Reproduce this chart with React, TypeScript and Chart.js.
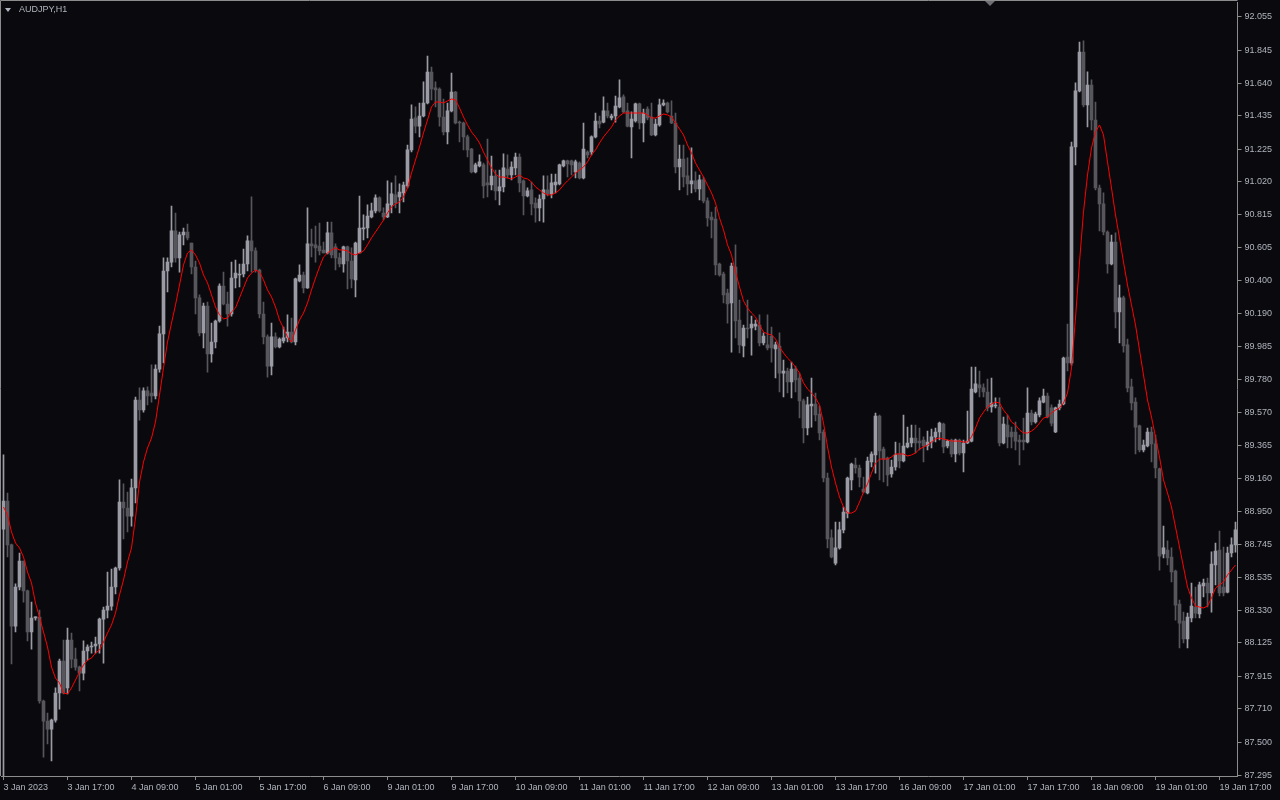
import React, { useEffect, useRef } from "react";
import { Chart, registerables } from "chart.js";

Chart.register(...registerables);

const opens = [
  88.839, 89.016, 88.740, 88.230, 88.476, 88.639, 88.451, 88.193, 88.281, 88.287,
  87.760, 87.634, 87.583, 87.640, 87.810, 88.011, 87.842, 88.143, 88.023, 87.973,
  87.935, 88.074, 88.099, 88.105, 88.118, 88.274, 88.331, 88.356, 88.476, 88.595,
  89.009, 88.972, 88.921, 89.098, 89.650, 89.587, 89.707, 89.694, 89.675, 89.844,
  90.065, 90.460, 90.516, 90.712, 90.542, 90.687, 90.705, 90.636, 90.485, 90.291,
  90.071, 90.240, 89.939, 90.014, 90.146, 90.366, 90.253, 90.190, 90.416, 90.435,
  90.441, 90.504, 90.649, 90.586, 90.466, 90.190, 90.046, 89.863, 90.046, 89.983,
  90.021, 90.040, 90.077, 90.014, 90.398, 90.435, 90.354, 90.630, 90.624, 90.617,
  90.592, 90.573, 90.699, 90.611, 90.542, 90.504, 90.611, 90.523, 90.404, 90.573,
  90.724, 90.730, 90.799, 90.837, 90.919, 90.824, 90.799, 90.875, 90.938, 90.925,
  90.950, 90.994, 91.220, 91.421, 91.370, 91.433, 91.515, 91.709, 91.610, 91.603,
  91.427, 91.333, 91.465, 91.584, 91.395, 91.389, 91.302, 91.226, 91.082, 91.119,
  91.126, 91.013, 91.000, 91.056, 90.963, 90.988, 91.100, 91.063, 91.107, 91.176,
  91.026, 90.931, 90.969, 90.887, 90.856, 90.912, 90.969, 90.944, 91.000, 91.007,
  91.119, 91.151, 91.151, 91.082, 91.138, 91.044, 91.207, 91.207, 91.302, 91.402,
  91.395, 91.465, 91.421, 91.433, 91.490, 91.553, 91.465, 91.364, 91.402, 91.509,
  91.389, 91.477, 91.427, 91.314, 91.377, 91.503, 91.515, 91.433, 91.389, 91.113,
  91.163, 91.057, 91.007, 91.026, 90.975, 91.032, 90.900, 90.799, 90.786, 90.504,
  90.441, 90.322, 90.259, 90.485, 90.152, 89.989, 90.102, 90.102, 90.114, 90.121,
  90.008, 89.996, 90.052, 89.970, 89.989, 89.819, 89.832, 89.763, 89.844, 89.788,
  89.644, 89.474, 89.612, 89.625, 89.562, 89.449, 89.160, 88.784, 88.626, 88.721,
  88.834, 88.940, 89.148, 89.242, 89.223, 89.091, 89.066, 89.261, 89.305, 89.549,
  89.342, 89.286, 89.185, 89.229, 89.311, 89.267, 89.355, 89.380, 89.411, 89.392,
  89.399, 89.361, 89.386, 89.418, 89.449, 89.499, 89.361, 89.399, 89.311, 89.399,
  89.317, 89.380, 89.392, 89.700, 89.745, 89.726, 89.700, 89.606, 89.612, 89.606,
  89.380, 89.493, 89.449, 89.449, 89.399, 89.399, 89.386, 89.568, 89.512, 89.556,
  89.637, 89.675, 89.600, 89.449, 89.600, 89.625, 89.920, 89.882, 91.239, 91.591,
  91.835, 91.503, 91.628, 91.408, 90.981, 90.881, 90.705, 90.504, 90.642, 90.203,
  90.291, 89.996, 89.732, 89.637, 89.487, 89.336, 89.361, 89.449, 89.374, 89.217,
  88.683, 88.708, 88.664, 88.576, 88.369, 88.262, 88.149, 88.281, 88.350, 88.306,
  88.482, 88.501, 88.438, 88.614, 88.708, 88.476, 88.444, 88.689, 88.740,
];

const highs = [
  89.305, 89.066, 88.746, 88.495, 88.689, 88.639, 88.457, 88.381, 88.287, 88.331,
  87.766, 87.684, 87.646, 87.842, 88.023, 88.143, 88.218, 88.187, 88.093, 87.979,
  88.137, 88.112, 88.130, 88.162, 88.281, 88.350, 88.569, 88.588, 88.601, 89.148,
  89.123, 89.072, 89.153, 89.669, 89.726, 89.726, 89.732, 89.870, 89.870, 90.114,
  90.542, 90.542, 90.868, 90.824, 90.705, 90.730, 90.755, 90.636, 90.523, 90.310,
  90.259, 90.265, 90.133, 90.152, 90.379, 90.453, 90.328, 90.516, 90.529, 90.504,
  90.598, 90.680, 90.925, 90.605, 90.472, 90.265, 90.059, 90.133, 90.071, 90.040,
  90.108, 90.184, 90.165, 90.416, 90.498, 90.453, 90.856, 90.723, 90.742, 90.761,
  90.642, 90.767, 90.767, 90.630, 90.573, 90.617, 90.617, 90.605, 90.642, 90.931,
  90.812, 90.875, 90.887, 90.938, 90.925, 90.856, 91.026, 91.013, 91.057, 91.007,
  91.019, 91.251, 91.503, 91.490, 91.515, 91.647, 91.810, 91.741, 91.647, 91.610,
  91.540, 91.515, 91.703, 91.588, 91.402, 91.395, 91.314, 91.230, 91.138, 91.189,
  91.138, 91.289, 91.182, 91.094, 91.094, 91.195, 91.189, 91.145, 91.201, 91.195,
  91.032, 90.982, 91.019, 90.919, 90.938, 91.057, 91.057, 91.069, 91.069, 91.132,
  91.157, 91.157, 91.157, 91.157, 91.145, 91.389, 91.214, 91.308, 91.452, 91.433,
  91.553, 91.515, 91.446, 91.559, 91.660, 91.566, 91.515, 91.459, 91.515, 91.515,
  91.477, 91.490, 91.515, 91.414, 91.540, 91.534, 91.521, 91.528, 91.452, 91.251,
  91.251, 91.170, 91.233, 91.082, 91.063, 91.050, 90.919, 90.830, 90.862, 90.510,
  90.453, 90.347, 90.510, 90.624, 90.278, 90.121, 90.278, 90.177, 90.152, 90.184,
  90.071, 90.184, 90.108, 90.014, 90.071, 89.901, 89.851, 89.888, 89.863, 89.819,
  89.656, 89.669, 89.788, 89.694, 89.612, 89.462, 89.191, 88.834, 88.884, 88.884,
  88.978, 89.166, 89.254, 89.286, 89.242, 89.166, 89.292, 89.324, 89.568, 89.556,
  89.355, 89.292, 89.273, 89.386, 89.380, 89.556, 89.480, 89.493, 89.493, 89.474,
  89.418, 89.455, 89.468, 89.474, 89.512, 89.505, 89.399, 89.405, 89.405, 89.405,
  89.399, 89.581, 89.857, 89.857, 89.832, 89.751, 89.782, 89.788, 89.663, 89.663,
  89.543, 89.556, 89.480, 89.512, 89.430, 89.537, 89.726, 89.587, 89.574, 89.663,
  89.719, 89.694, 89.619, 89.606, 89.650, 89.920, 90.127, 91.270, 91.641, 91.898,
  91.905, 91.710, 91.660, 91.521, 91.000, 90.950, 90.712, 90.686, 90.699, 90.372,
  90.303, 90.033, 89.782, 89.663, 89.493, 89.399, 89.474, 89.480, 89.430, 89.223,
  88.859, 88.765, 88.721, 88.582, 88.394, 88.318, 88.312, 88.501, 88.476, 88.507,
  88.526, 88.532, 88.696, 88.752, 88.827, 88.727, 88.727, 88.784, 88.884,
];

const lows = [
  87.250, 88.664, 87.992, 88.193, 88.457, 88.381, 88.137, 88.086, 88.268, 87.747,
  87.408, 87.490, 87.383, 87.627, 87.709, 87.804, 87.804, 87.967, 87.954, 87.823,
  87.892, 88.017, 88.061, 88.061, 88.061, 87.998, 88.281, 88.331, 88.432, 88.582,
  88.777, 88.821, 88.858, 89.003, 89.524, 89.574, 89.619, 89.637, 89.656, 89.825,
  89.882, 90.328, 90.485, 90.516, 90.453, 90.624, 90.655, 90.441, 90.190, 90.052,
  89.977, 89.825, 89.888, 89.977, 90.139, 90.247, 90.114, 90.177, 90.354, 90.360,
  90.422, 90.460, 90.453, 90.453, 90.165, 90.002, 89.794, 89.807, 89.977, 89.977,
  90.008, 90.014, 90.008, 89.996, 90.391, 90.322, 90.350, 90.548, 90.516, 90.561,
  90.573, 90.567, 90.542, 90.466, 90.485, 90.453, 90.347, 90.354, 90.297, 90.573,
  90.655, 90.668, 90.793, 90.824, 90.830, 90.780, 90.795, 90.824, 90.856, 90.824,
  90.893, 90.982, 91.207, 91.327, 91.302, 91.427, 91.509, 91.534, 91.490, 91.370,
  91.314, 91.258, 91.459, 91.383, 91.270, 91.220, 91.176, 91.075, 91.075, 91.113,
  90.919, 90.925, 90.969, 90.906, 90.875, 90.956, 91.044, 91.032, 91.063, 90.956,
  90.812, 90.925, 90.812, 90.767, 90.774, 90.767, 90.931, 90.919, 90.950, 91.000,
  91.113, 91.050, 91.063, 91.044, 91.038, 91.038, 91.170, 91.189, 91.295, 91.358,
  91.389, 91.421, 91.408, 91.395, 91.484, 91.452, 91.364, 91.170, 91.395, 91.352,
  91.270, 91.408, 91.310, 91.308, 91.370, 91.496, 91.452, 91.385, 91.075, 90.969,
  90.988, 90.938, 90.950, 90.956, 90.906, 90.887, 90.742, 90.668, 90.435, 90.428,
  90.259, 90.133, 89.951, 90.040, 89.945, 89.920, 90.040, 89.932, 90.090, 89.989,
  89.996, 89.964, 89.888, 89.788, 89.700, 89.669, 89.694, 89.663, 89.700, 89.537,
  89.380, 89.431, 89.480, 89.518, 89.399, 89.135, 88.721, 88.658, 88.614, 88.714,
  88.815, 88.909, 89.085, 89.191, 89.104, 89.066, 89.060, 89.229, 89.191, 89.148,
  89.135, 89.110, 89.166, 89.210, 89.223, 89.261, 89.349, 89.355, 89.317, 89.336,
  89.261, 89.336, 89.349, 89.386, 89.399, 89.317, 89.349, 89.292, 89.261, 89.305,
  89.198, 89.376, 89.386, 89.695, 89.669, 89.669, 89.581, 89.574, 89.600, 89.361,
  89.374, 89.349, 89.349, 89.336, 89.242, 89.336, 89.380, 89.493, 89.505, 89.543,
  89.631, 89.537, 89.487, 89.445, 89.587, 89.619, 89.832, 89.869, 91.126, 91.584,
  91.490, 91.364, 91.346, 90.969, 90.712, 90.686, 90.447, 90.498, 90.102, 90.008,
  89.951, 89.700, 89.587, 89.311, 89.324, 89.324, 89.355, 89.261, 89.160, 88.582,
  88.658, 88.614, 88.507, 88.268, 88.093, 88.124, 88.093, 88.256, 88.281, 88.281,
  88.413, 88.350, 88.318, 88.489, 88.419, 88.419, 88.438, 88.664, 88.695,
];

const closes = [
  89.016, 88.740, 88.230, 88.476, 88.639, 88.451, 88.193, 88.281, 88.288, 87.760,
  87.634, 87.583, 87.640, 87.810, 88.011, 87.810, 88.143, 88.023, 87.973, 87.935,
  88.074, 88.099, 88.105, 88.118, 88.274, 88.331, 88.356, 88.476, 88.595, 89.009,
  88.972, 88.921, 89.098, 89.650, 89.587, 89.707, 89.675, 89.675, 89.844, 90.065,
  90.460, 90.516, 90.712, 90.542, 90.687, 90.705, 90.668, 90.485, 90.291, 90.071,
  90.240, 89.939, 90.014, 90.146, 90.366, 90.253, 90.190, 90.416, 90.447, 90.441,
  90.504, 90.649, 90.586, 90.466, 90.190, 90.046, 89.863, 90.046, 89.983, 90.033,
  90.040, 90.077, 90.014, 90.410, 90.435, 90.354, 90.630, 90.617, 90.605, 90.586,
  90.573, 90.699, 90.561, 90.542, 90.504, 90.611, 90.523, 90.410, 90.636, 90.730,
  90.730, 90.805, 90.837, 90.919, 90.837, 90.799, 90.881, 90.944, 90.887, 90.956,
  91.000, 91.220, 91.414, 91.370, 91.433, 91.515, 91.709, 91.603, 91.597, 91.427,
  91.333, 91.465, 91.584, 91.389, 91.389, 91.302, 91.220, 91.082, 91.126, 91.145,
  90.994, 91.000, 91.056, 90.963, 90.988, 91.107, 91.063, 91.113, 91.176, 91.013,
  90.931, 90.963, 90.881, 90.856, 90.912, 90.969, 90.944, 91.013, 91.019, 91.126,
  91.151, 91.132, 91.126, 91.145, 91.044, 91.226, 91.189, 91.302, 91.402, 91.383,
  91.465, 91.433, 91.433, 91.496, 91.547, 91.459, 91.370, 91.414, 91.509, 91.389,
  91.452, 91.421, 91.314, 91.383, 91.503, 91.515, 91.459, 91.389, 91.113, 91.163,
  91.050, 91.007, 91.026, 90.975, 91.032, 90.900, 90.793, 90.780, 90.498, 90.435,
  90.310, 90.253, 90.491, 90.146, 89.996, 90.102, 90.096, 90.127, 90.127, 90.008,
  90.052, 89.977, 89.977, 89.996, 89.819, 89.832, 89.763, 89.844, 89.776, 89.644,
  89.474, 89.619, 89.625, 89.556, 89.443, 89.160, 88.777, 88.664, 88.721, 88.834,
  88.946, 89.160, 89.248, 89.223, 89.166, 89.072, 89.267, 89.311, 89.549, 89.330,
  89.279, 89.179, 89.229, 89.305, 89.267, 89.361, 89.380, 89.411, 89.380, 89.380,
  89.361, 89.386, 89.418, 89.449, 89.505, 89.355, 89.392, 89.311, 89.399, 89.317,
  89.380, 89.392, 89.719, 89.751, 89.726, 89.700, 89.600, 89.631, 89.614, 89.380,
  89.499, 89.418, 89.418, 89.392, 89.386, 89.386, 89.568, 89.512, 89.562, 89.644,
  89.675, 89.543, 89.505, 89.600, 89.625, 89.913, 89.882, 91.239, 91.591, 91.835,
  91.503, 91.628, 91.408, 90.981, 90.881, 90.705, 90.504, 90.642, 90.203, 90.291,
  89.989, 89.726, 89.631, 89.480, 89.336, 89.367, 89.449, 89.374, 89.223, 88.670,
  88.721, 88.658, 88.570, 88.362, 88.249, 88.149, 88.287, 88.356, 88.312, 88.489,
  88.501, 88.438, 88.620, 88.702, 88.438, 88.438, 88.689, 88.740, 88.834,
];

const maValues = [
  88.978, 88.928, 88.821, 88.752, 88.721, 88.664, 88.570, 88.501, 88.375, 88.287,
  88.193, 88.099, 87.973, 87.904, 87.873, 87.810, 87.804, 87.842, 87.892, 87.942,
  87.986, 88.017, 88.030, 88.061, 88.080, 88.130, 88.187, 88.237, 88.312, 88.426,
  88.520, 88.633, 88.721, 88.909, 89.135, 89.261, 89.349, 89.411, 89.512, 89.681,
  89.851, 90.014, 90.133, 90.247, 90.372, 90.498, 90.573, 90.592, 90.561, 90.510,
  90.435, 90.385, 90.310, 90.234, 90.184, 90.159, 90.165, 90.203, 90.228, 90.291,
  90.354, 90.416, 90.447, 90.466, 90.453, 90.404, 90.341, 90.297, 90.234, 90.152,
  90.102, 90.046, 90.014, 90.090, 90.152, 90.196, 90.259, 90.341, 90.416, 90.485,
  90.548, 90.573, 90.592, 90.605, 90.592, 90.592, 90.586, 90.567, 90.561, 90.573,
  90.586, 90.624, 90.668, 90.705, 90.742, 90.780, 90.824, 90.862, 90.881, 90.893,
  90.925, 90.981, 91.075, 91.157, 91.239, 91.327, 91.408, 91.490, 91.521, 91.521,
  91.515, 91.528, 91.540, 91.534, 91.484, 91.427, 91.377, 91.333, 91.302, 91.264,
  91.207, 91.157, 91.107, 91.069, 91.050, 91.050, 91.044, 91.038, 91.050, 91.063,
  91.044, 91.038, 91.019, 90.988, 90.969, 90.950, 90.938, 90.938, 90.950, 90.969,
  91.000, 91.026, 91.050, 91.075, 91.094, 91.113, 91.145, 91.189, 91.220, 91.264,
  91.302, 91.333, 91.364, 91.408, 91.433, 91.452, 91.452, 91.452, 91.452, 91.452,
  91.452, 91.440, 91.421, 91.421, 91.433, 91.446, 91.440, 91.427, 91.389, 91.352,
  91.314, 91.251, 91.201, 91.138, 91.094, 91.050, 91.000, 90.950, 90.887, 90.793,
  90.718, 90.624, 90.561, 90.453, 90.360, 90.272, 90.228, 90.196, 90.171, 90.121,
  90.077, 90.065, 90.059, 90.033, 89.983, 89.945, 89.913, 89.888, 89.857, 89.819,
  89.757, 89.719, 89.694, 89.663, 89.619, 89.505, 89.355, 89.229, 89.129, 89.041,
  88.978, 88.940, 88.940, 88.953, 89.009, 89.072, 89.123, 89.191, 89.254, 89.279,
  89.279, 89.279, 89.292, 89.311, 89.311, 89.311, 89.298, 89.305, 89.317, 89.342,
  89.355, 89.367, 89.386, 89.405, 89.411, 89.405, 89.399, 89.392, 89.392, 89.392,
  89.386, 89.386, 89.418, 89.474, 89.537, 89.574, 89.606, 89.625, 89.637, 89.631,
  89.587, 89.556, 89.512, 89.493, 89.462, 89.443, 89.443, 89.455, 89.474, 89.505,
  89.537, 89.543, 89.568, 89.587, 89.600, 89.631, 89.694, 89.851, 90.165, 90.516,
  90.831, 91.063, 91.233, 91.333, 91.377, 91.314, 91.145, 90.981, 90.812, 90.668,
  90.516, 90.372, 90.247, 90.121, 89.964, 89.807, 89.650, 89.543, 89.418, 89.292,
  89.148, 89.066, 88.978, 88.852, 88.727, 88.601, 88.476, 88.407, 88.356, 88.350,
  88.344, 88.356, 88.407, 88.469, 88.489, 88.507, 88.551, 88.582, 88.614,
];

const xTickLabels = [
  "3 Jan 2023", "3 Jan 17:00", "4 Jan 09:00", "5 Jan 01:00", "5 Jan 17:00",
  "6 Jan 09:00", "9 Jan 01:00", "9 Jan 17:00", "10 Jan 09:00", "11 Jan 01:00",
  "11 Jan 17:00", "12 Jan 09:00", "13 Jan 01:00", "13 Jan 17:00", "16 Jan 09:00",
  "17 Jan 01:00", "17 Jan 17:00", "18 Jan 09:00", "19 Jan 01:00", "19 Jan 17:00",
];

const yTickLabels = [
  "92.055", "91.845", "91.640", "91.435", "91.225", "91.020", "90.815", "90.605",
  "90.400", "90.190", "89.985", "89.780", "89.570", "89.365", "89.160", "88.950",
  "88.745", "88.535", "88.330", "88.125", "87.915", "87.710", "87.500", "87.295",
];

const HOURS_PER_LABEL = 16;
const SYMBOL = "AUDJPY,H1";

const BG = "#0a0a0e";
const BULL = "#9b9ba6";
const BEAR = "#56565c";
const AXIS = "#8c8c8c";
const TEXT = "#b0b4be";
const FONT = "Liberation Sans";

export default function App() {
  const ref = useRef<HTMLCanvasElement | null>(null);

  useEffect(() => {
    document.body.style.margin = "0";
    document.body.style.background = BG;
    const canvas = ref.current;
    if (!canvas) return;

    const labels = closes.map((_, i) => String(i));
    const colors = closes.map((c, i) => (c >= opens[i] ? BULL : BEAR));
    const wicks = closes.map((c, i) => [
      Math.min(lows[i], opens[i], c),
      Math.max(highs[i], opens[i], c),
    ]);
    const bodies = closes.map((c, i) => [opens[i], c]);

    const decor = {
      id: "decor",
      beforeDraw(chart: any) {
        const { ctx, width, height } = chart;
        ctx.save();
        ctx.fillStyle = BG;
        ctx.fillRect(0, 0, width, height);
        ctx.restore();
      },
      afterDraw(chart: any) {
        const { ctx, chartArea } = chart;
        ctx.save();
        ctx.strokeStyle = AXIS;
        ctx.lineWidth = 1;
        ctx.beginPath();
        ctx.moveTo(0.5, chartArea.bottom);
        ctx.lineTo(0.5, 0.5);
        ctx.lineTo(chartArea.right, 0.5);
        ctx.stroke();
        ctx.fillStyle = TEXT;
        ctx.beginPath();
        ctx.moveTo(5, 8);
        ctx.lineTo(11, 8);
        ctx.lineTo(8, 12);
        ctx.closePath();
        ctx.fill();
        ctx.font = `9px "${FONT}"`;
        ctx.textBaseline = "middle";
        ctx.textAlign = "left";
        ctx.fillText(SYMBOL, 19, 10);
        ctx.fillStyle = "#6e6e74";
        ctx.beginPath();
        ctx.moveTo(985, 1);
        ctx.lineTo(995, 1);
        ctx.lineTo(990, 6);
        ctx.closePath();
        ctx.fill();
        ctx.restore();
      },
    };

    const chart = new Chart(canvas, {
      type: "bar",
      data: {
        labels,
        datasets: [
          {
            type: "line",
            data: maValues,
            borderColor: "#ff0000",
            borderWidth: 1,
            pointRadius: 0,
            tension: 0,
            order: 0,
          } as any,
          {
            data: bodies as any,
            backgroundColor: colors,
            barThickness: 3,
            minBarLength: 1,
            grouped: false,
            order: 1,
          },
          {
            data: wicks as any,
            backgroundColor: colors,
            barThickness: 1,
            grouped: false,
            order: 2,
          },
        ],
      },
      options: {
        responsive: false,
        animation: false,
        devicePixelRatio: 1,
        layout: { padding: { left: 1.5, top: 2, right: 0, bottom: 0 } },
        plugins: { legend: { display: false }, tooltip: { enabled: false } },
        scales: {
          x: {
            type: "category",
            offset: true,
            afterBuildTicks: (axis: any) => {
              axis.ticks = axis.ticks.filter((t: any) => t.value % HOURS_PER_LABEL === 0);
            },
            afterFit: (axis: any) => {
              axis.height = 24;
              axis.paddingLeft = 0;
              axis.paddingRight = 0;
            },
            grid: {
              display: true,
              drawOnChartArea: false,
              drawTicks: true,
              tickLength: 4,
              color: AXIS,
              offset: false,
            },
            border: { display: true, color: AXIS },
            ticks: {
              autoSkip: false,
              maxRotation: 0,
              minRotation: 0,
              align: "start",
              padding: 2,
              color: TEXT,
              font: { family: FONT, size: 9 },
              callback: (value: any) => xTickLabels[Math.round(Number(value) / HOURS_PER_LABEL)] ?? "",
            },
          },
          y: {
            type: "linear",
            position: "right",
            min: 87.289,
            max: 92.149,
            afterBuildTicks: (axis: any) => {
              axis.ticks = yTickLabels.map((s) => ({ value: parseFloat(s) }));
            },
            afterFit: (axis: any) => {
              axis.width = 42.5;
              axis.paddingTop = 0;
              axis.paddingBottom = 0;
            },
            grid: {
              display: true,
              drawOnChartArea: false,
              drawTicks: true,
              tickLength: 4,
              color: AXIS,
            },
            border: { display: true, color: AXIS },
            ticks: {
              padding: 3,
              color: TEXT,
              font: { family: FONT, size: 9 },
              callback: (value: any) => Number(value).toFixed(3),
            },
          },
        },
      },
      plugins: [decor],
    });

    return () => chart.destroy();
  }, []);

  return <canvas ref={ref} width={1280} height={800} style={{ display: "block" }} />;
}
